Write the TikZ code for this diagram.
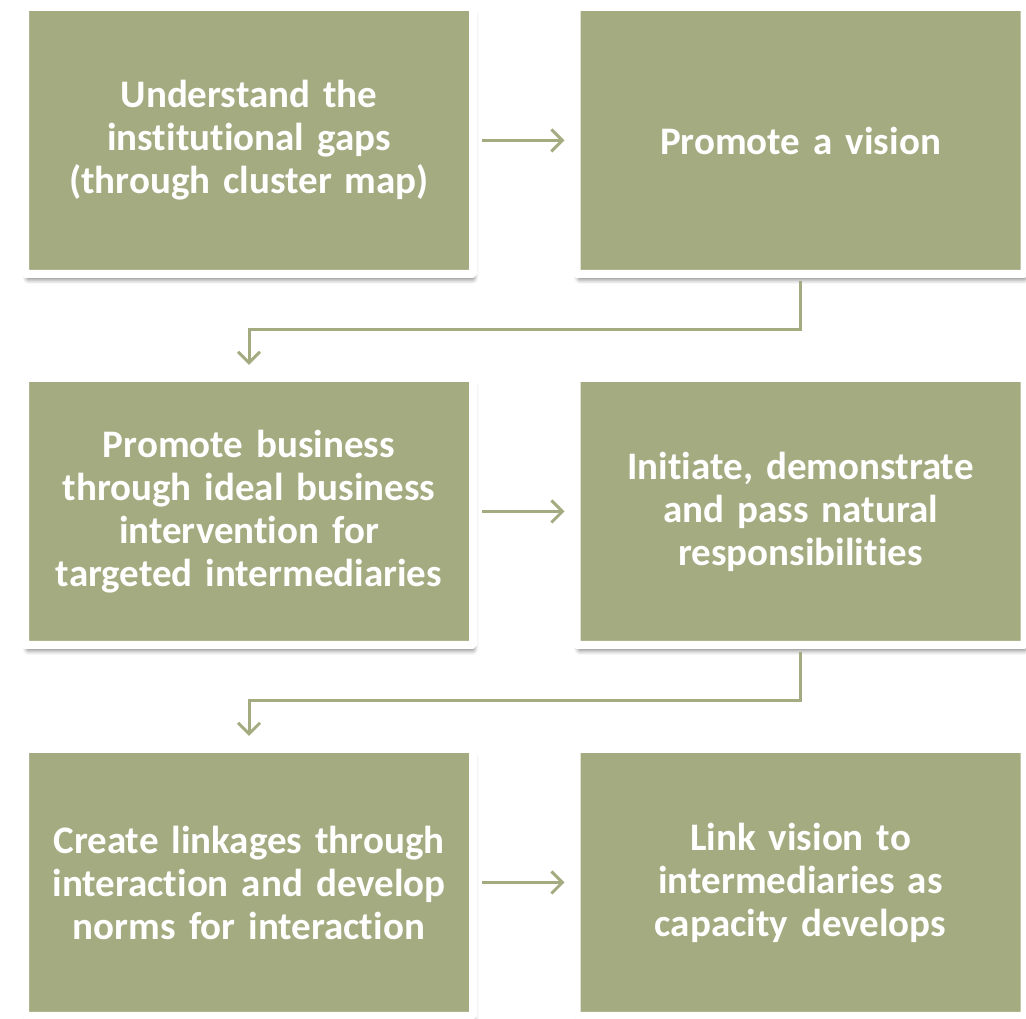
\documentclass[tikz,border=0pt]{standalone}
\usepackage{fontspec}
\setmainfont[Ligatures={NoCommon}]{Carlito}
\usetikzlibrary{arrows.meta,shadows.blur}
\definecolor{sage}{HTML}{A4AB80}

\begin{document}
\begin{tikzpicture}[x=1pt,y=1pt,
  stepbox/.style={fill=sage,draw=white,line width=8pt,rounded corners=1.5pt,
    minimum width=448pt,minimum height=267pt,inner sep=0pt,
    text=white,text width=430pt,align=center,
    font=\fontsize{39}{43}\selectfont\bfseries,
    blur shadow={shadow xshift=1.5pt,shadow yshift=-6pt,shadow blur radius=4pt,shadow opacity=45}},
  link/.style={sage,line width=3pt,-{Straight Barb[length=11pt,width=22pt,line width=3pt]}}]
\useasboundingbox (0,0) rectangle (1026,1019);
\node[stepbox] (gaps) at (249,878.5) {Understand the\\institutional gaps\\(through cluster map)};
\node[stepbox] (vision) at (800.5,878.5) {Promote a vision};
\node[stepbox] (business) at (249,507.5) {Promote business\\through ideal business\\intervention for\\targeted intermediaries};
\node[stepbox] (initiate) at (800.5,507.5) {Initiate, demonstrate\\and pass natural\\responsibilities};
\node[stepbox] (linkages) at (249,136.5) {Create linkages through\\interaction and develop\\norms for interaction};
\node[stepbox] (linkvision) at (800.5,136.5) {Link vision to\\intermediaries as\\capacity develops};
% rightward steps
\draw[link,shorten <=5pt,shorten >=8pt] (gaps) -- (vision);
\draw[link,shorten <=5pt,shorten >=8pt] (business) -- (initiate);
\draw[link,shorten <=5pt,shorten >=8pt] (linkages) -- (linkvision);
% back to the next row
\draw[link,shorten <=3pt,shorten >=9pt] (vision.south) -- ++(0,-51.5) -| (business.north);
\draw[link,shorten <=3pt,shorten >=9pt] (initiate.south) -- ++(0,-51.5) -| (linkages.north);
\end{tikzpicture}
\end{document}
